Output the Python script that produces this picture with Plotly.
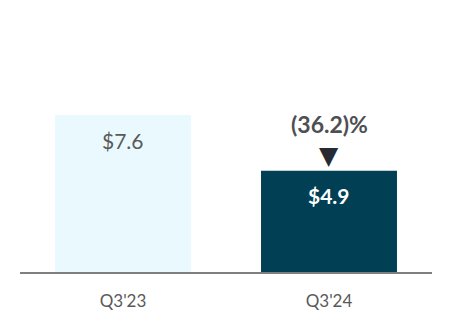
import plotly.graph_objects as go

categories = ["Q3'23", "Q3'24"]
values = [7.6, 4.9]
value_labels = ["$7.6", "$4.9"]
change_label = "(36.2)%"
bar_colors = ["#EAF9FE", "#003F54"]
label_colors = ["#595959", "#FFFFFF"]

FONT = "Lato, Open Sans, sans-serif"

fig = go.Figure()
fig.add_trace(go.Bar(x=categories, y=values, marker=dict(color=bar_colors, line=dict(width=0)),
                     hoverinfo="skip"))

for c, v, t, col in zip(categories, values, value_labels, label_colors):
    fig.add_annotation(x=c, y=v, text=t if col != "#FFFFFF" else f"<b>{t}</b>", showarrow=False,
                       yshift=-25, font=dict(family=FONT, size=21, color=col))

fig.add_annotation(x=categories[1], y=values[1], text="▼", showarrow=False, yshift=15,
                   font=dict(family="DejaVu Sans", size=25, color="#262A33"))
fig.add_annotation(x=categories[1], y=values[1], text=f"<b>{change_label}</b>", showarrow=False,
                   yshift=47, font=dict(family=FONT, size=23, color="#4D4F53"))

fig.update_layout(
    width=452, height=332,
    margin=dict(l=20, r=20, t=20, b=60),
    plot_bgcolor="white", paper_bgcolor="white",
    bargap=0.34, showlegend=False,
    xaxis=dict(showline=True, linecolor="#7F7F7F", linewidth=2, ticks="outside", ticklen=13,
               tickcolor="rgba(0,0,0,0)", tickfont=dict(family=FONT, size=17, color="#595959"),
               showgrid=False, zeroline=False),
    yaxis=dict(range=[0, 12.2], visible=False, showgrid=False, zeroline=False),
)

fig.write_html("out.html")
